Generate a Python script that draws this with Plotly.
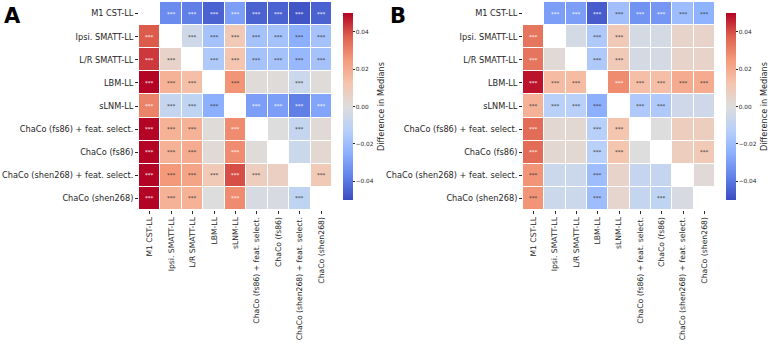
import numpy as np
import plotly.graph_objects as go
from plotly.colors import sample_colorscale, unlabel_rgb

labels = ["M1 CST-LL", "Ipsi. SMATT-LL", "L/R SMATT-LL", "LBM-LL", "sLNM-LL",
          "ChaCo (fs86) + feat. select.", "ChaCo (fs86)",
          "ChaCo (shen268) + feat. select.", "ChaCo (shen268)"]
nan = np.nan

diff_A = [
    [nan, -0.035, -0.038, -0.045, -0.030, -0.045, -0.045, -0.048, -0.045],
    [0.038, nan, -0.005, -0.018, 0.010, -0.018, -0.018, -0.025, -0.018],
    [0.043, 0.005, nan, -0.015, 0.012, -0.018, -0.018, -0.022, -0.018],
    [0.050, 0.018, 0.014, nan, 0.026, 0.001, 0.001, -0.006, 0.001],
    [0.030, -0.008, -0.010, -0.025, nan, -0.030, -0.030, -0.038, -0.028],
    [0.050, 0.018, 0.018, 0.001, 0.028, nan, 0.000, -0.008, 0.002],
    [0.050, 0.018, 0.020, 0.002, 0.028, 0.001, nan, -0.006, 0.003],
    [0.050, 0.025, 0.022, 0.010, 0.040, 0.008, 0.007, nan, 0.010],
    [0.050, 0.018, 0.018, 0.000, 0.028, -0.002, -0.002, -0.010, nan],
]
sig_A = [
    [0, 1, 1, 1, 1, 1, 1, 1, 1],
    [1, 0, 1, 1, 1, 1, 1, 1, 1],
    [1, 1, 0, 1, 1, 1, 1, 1, 1],
    [1, 1, 1, 0, 1, 0, 0, 1, 0],
    [1, 1, 1, 1, 0, 1, 1, 1, 1],
    [1, 1, 1, 0, 1, 0, 0, 1, 0],
    [1, 1, 1, 0, 1, 0, 0, 0, 0],
    [1, 1, 1, 1, 1, 1, 0, 0, 1],
    [1, 1, 1, 0, 1, 0, 0, 1, 0],
]
diff_B = [
    [nan, -0.030, -0.030, -0.046, -0.019, -0.033, -0.032, -0.020, -0.024],
    [0.033, nan, -0.003, -0.015, 0.010, -0.003, -0.003, 0.005, 0.005],
    [0.033, 0.002, nan, -0.015, 0.010, -0.003, -0.003, 0.005, 0.005],
    [0.048, 0.015, 0.015, nan, 0.028, 0.014, 0.014, 0.020, 0.020],
    [0.018, -0.012, -0.012, -0.025, nan, -0.015, -0.015, -0.005, -0.005],
    [0.035, 0.003, 0.003, -0.012, 0.012, nan, 0.000, 0.008, 0.008],
    [0.035, 0.003, 0.003, -0.012, 0.012, 0.000, nan, 0.008, 0.010],
    [0.026, -0.006, -0.006, -0.020, 0.005, -0.008, -0.008, nan, 0.002],
    [0.026, -0.006, -0.006, -0.020, 0.004, -0.008, -0.010, -0.002, nan],
]
sig_B = [
    [0, 1, 1, 1, 1, 1, 1, 1, 1],
    [1, 0, 0, 1, 1, 0, 0, 0, 0],
    [1, 0, 0, 1, 1, 0, 0, 0, 0],
    [1, 1, 1, 0, 1, 1, 1, 1, 1],
    [1, 1, 1, 1, 0, 1, 1, 0, 0],
    [1, 0, 0, 1, 1, 0, 0, 0, 0],
    [1, 0, 0, 1, 1, 0, 0, 0, 1],
    [1, 0, 0, 1, 0, 0, 0, 0, 0],
    [1, 0, 0, 1, 0, 0, 1, 0, 0],
]
cbar_ticks = [0.04, 0.02, 0.0, -0.02, -0.04]
cbar_text = ["0.04", "0.02", "0.00", "\u22120.02", "\u22120.04"]

ZMIN, ZMAX = -0.05, 0.05
coolwarm = [
    [0.0, "rgb(59,76,192)"], [0.125, "rgb(98,130,234)"], [0.25, "rgb(141,176,254)"],
    [0.375, "rgb(184,208,249)"], [0.5, "rgb(221,221,221)"], [0.625, "rgb(245,196,173)"],
    [0.75, "rgb(244,154,123)"], [0.875, "rgb(222,96,77)"], [1.0, "rgb(180,4,38)"],
]
FONT = "DejaVu Sans"
TXT = "#262626"
W, H = 768, 346


def lum(rgbstr):
    r, g, b = [c / 255 for c in unlabel_rgb(rgbstr)]
    f = lambda c: c / 12.92 if c <= 0.03928 else ((c + 0.055) / 1.055) ** 2.4
    return 0.2126 * f(r) + 0.7152 * f(g) + 0.0722 * f(b)


fig = go.Figure()
panels = [
    (diff_A, sig_A, "x", "y", 343),
    (diff_B, sig_B, "x2", "y2", 726),
]
annotations = []
for z, sig, xa, ya, cbx in panels:
    fig.add_trace(go.Heatmap(
        z=z, x=labels, y=labels, xaxis=xa, yaxis=ya,
        colorscale=coolwarm, zmin=ZMIN, zmax=ZMAX, xgap=1, ygap=1,
        hoverongaps=False,
        colorbar=dict(
            x=cbx / W, xanchor="left", xpad=0, ypad=0,
            y=1 - 106.5 / H, yanchor="middle",
            len=187, lenmode="pixels", thickness=10, outlinewidth=0,
            tickvals=cbar_ticks, ticktext=cbar_text, ticks="outside", ticklen=2,
            tickcolor=TXT, tickfont=dict(family=FONT, size=5.8, color=TXT),
            title=dict(text="Difference in Medians", side="right",
                       font=dict(family=FONT, size=8.2, color=TXT)),
        ),
    ))
    for i in range(9):
        for j in range(9):
            if sig[i][j]:
                v = z[i][j]
                col = sample_colorscale(coolwarm, [(v - ZMIN) / (ZMAX - ZMIN)])[0]
                tc = "#333333" if lum(col) > 0.408 else "white"
                annotations.append(dict(
                    x=labels[j], y=labels[i], xref=xa, yref=ya, text="***",
                    showarrow=False, font=dict(family=FONT, size=5.5, color=tc)))

annotations.append(dict(x=2 / W, y=1 - 2 / H, xref="paper", yref="paper", text="<b>A</b>",
                        showarrow=False, xanchor="left", yanchor="top",
                        font=dict(family=FONT, size=21, color="black")))
annotations.append(dict(x=388 / W, y=1 - 2 / H, xref="paper", yref="paper", text="<b>B</b>",
                        showarrow=False, xanchor="left", yanchor="top",
                        font=dict(family=FONT, size=21, color="black")))

ydom = [1 - 210 / H, 1 - 2 / H]
common = dict(showgrid=False, zeroline=False, showline=False, ticks="outside",
              ticklen=3, tickcolor=TXT)
xfont = dict(family=FONT, size=7.7, color=TXT)
yfont = dict(family=FONT, size=8.2, color=TXT)
fig.update_layout(
    width=W, height=H, margin=dict(l=0, r=0, t=0, b=0, autoexpand=False),
    paper_bgcolor="white", plot_bgcolor="white",
    xaxis=dict(domain=[139 / W, 332 / W], anchor="y", tickangle=-90, tickfont=xfont, **common),
    yaxis=dict(domain=ydom, anchor="x", autorange="reversed", tickfont=yfont, **common),
    xaxis2=dict(domain=[523 / W, 715 / W], anchor="y2", tickangle=-90, tickfont=xfont, **common),
    yaxis2=dict(domain=ydom, anchor="x2", autorange="reversed", tickfont=yfont, **common),
    annotations=annotations,
)
fig.write_html("out.html", config={"displayModeBar": False},
               post_script="document.body.style.margin='0';")
